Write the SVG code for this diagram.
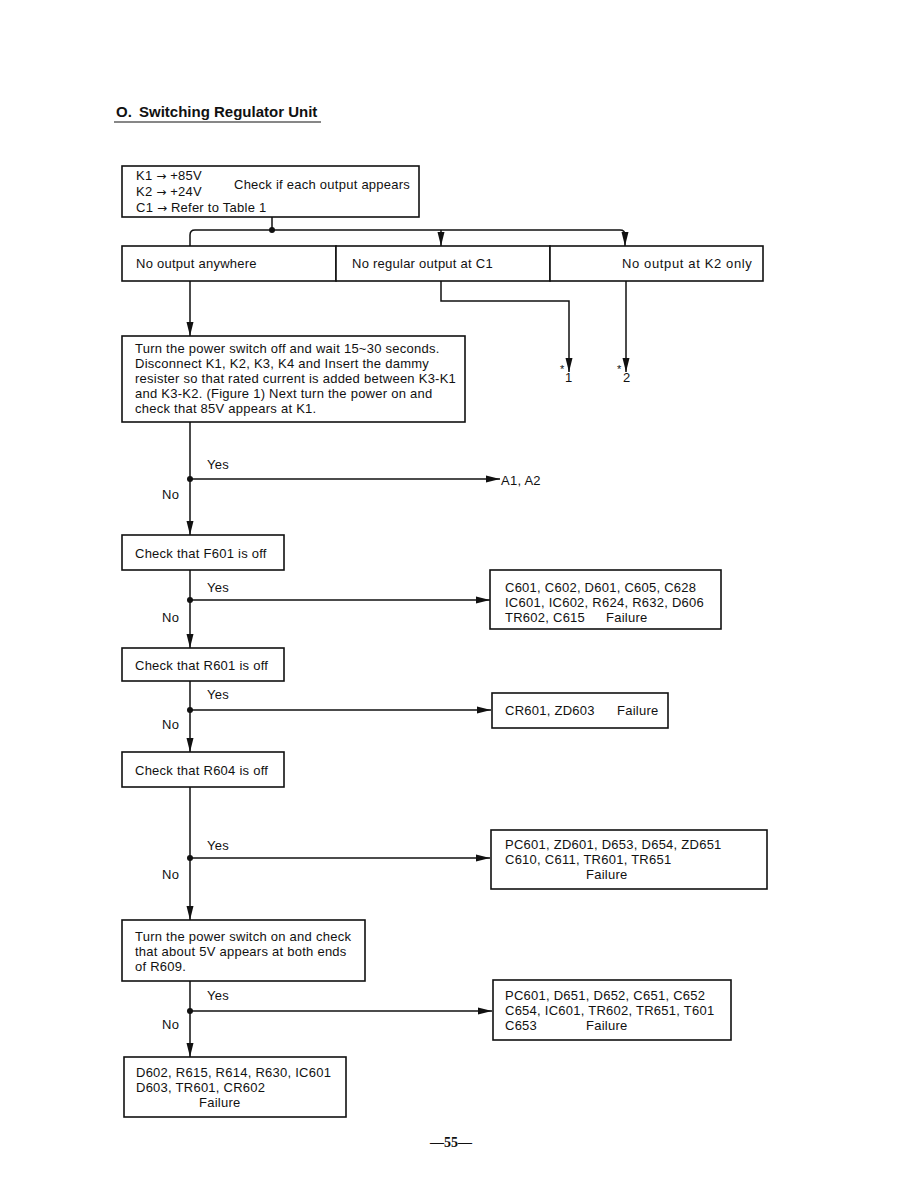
<svg xmlns="http://www.w3.org/2000/svg" width="918" height="1187" viewBox="0 0 918 1187">
<defs>
<marker id="ah" markerWidth="14" markerHeight="8" refX="14" refY="4" orient="auto" markerUnits="userSpaceOnUse">
<path d="M0,0.5 L14,4 L0,7.5 Z" fill="#111"/>
</marker>
<style>
.box{fill:#fff;stroke:#111;stroke-width:1.6}
.ln{fill:none;stroke:#111;stroke-width:1.5}
.t{font-family:"Liberation Sans",Arial,sans-serif;font-size:13px;letter-spacing:0.25px;fill:#111}
.ar{font-family:"DejaVu Sans",sans-serif;font-size:12px;letter-spacing:0}
.dot{fill:#111}
</style>
</defs>
<rect width="918" height="1187" fill="#fff"/>
<g id="title">
<text x="116" y="117" font-family="Liberation Sans,Arial,sans-serif" font-size="15" font-weight="bold" fill="#111">O.</text>
<text x="139" y="117" font-family="Liberation Sans,Arial,sans-serif" font-size="15" font-weight="bold" fill="#111">Switching Regulator Unit</text>
<line x1="114" y1="122" x2="321" y2="122" stroke="#111" stroke-width="1.2"/>
</g>
<g id="connectors">
<path class="ln" d="M272,217 V230"/>
<circle class="dot" cx="272" cy="230" r="3"/>
<path class="ln" d="M195,230 H620 Q625,230 625,235 V246" marker-end="url(#ah)"/>
<path class="ln" d="M195,230 Q190,230 190,235 V246"/>
<path class="ln" d="M441,230 V246" marker-end="url(#ah)"/>
<path class="ln" d="M190,281 V336" marker-end="url(#ah)"/>
<path class="ln" d="M441,281 V301 H569 V372" marker-end="url(#ah)"/>
<path class="ln" d="M626,281 V372" marker-end="url(#ah)"/>
<path class="ln" d="M190,422 V535" marker-end="url(#ah)"/>
<circle class="dot" cx="190" cy="479" r="3"/>
<path class="ln" d="M190,479 H500" marker-end="url(#ah)"/>
<path class="ln" d="M190,570 V648" marker-end="url(#ah)"/>
<circle class="dot" cx="190" cy="600" r="3"/>
<path class="ln" d="M190,600 H490" marker-end="url(#ah)"/>
<path class="ln" d="M190,681 V752" marker-end="url(#ah)"/>
<circle class="dot" cx="190" cy="710" r="3"/>
<path class="ln" d="M190,710 H491" marker-end="url(#ah)"/>
<path class="ln" d="M190,787 V920" marker-end="url(#ah)"/>
<circle class="dot" cx="190" cy="858" r="3"/>
<path class="ln" d="M190,858 H490" marker-end="url(#ah)"/>
<path class="ln" d="M190,981 V1057" marker-end="url(#ah)"/>
<circle class="dot" cx="190" cy="1011" r="3"/>
<path class="ln" d="M190,1011 H492" marker-end="url(#ah)"/>
<g class="t">
<text x="560" y="373" font-size="11">*</text><text x="565" y="382">1</text>
<text x="617" y="373" font-size="11">*</text><text x="623" y="382">2</text>
<text x="207" y="469">Yes</text><text x="162" y="499">No</text>
<text x="501" y="485">A1, A2</text>
<text x="207" y="592">Yes</text><text x="162" y="622">No</text>
<text x="207" y="699">Yes</text><text x="162" y="729">No</text>
<text x="207" y="850">Yes</text><text x="162" y="879">No</text>
<text x="207" y="1000">Yes</text><text x="162" y="1029">No</text>
</g>
</g>
<g id="n-start">
<rect class="box" x="122" y="166" width="297" height="51"/>
<text class="t" x="136" y="180">K1 <tspan class="ar">→</tspan> +85V</text>
<text class="t" x="136" y="196">K2 <tspan class="ar">→</tspan> +24V</text>
<text class="t" x="136" y="212">C1 <tspan class="ar">→</tspan> Refer to Table 1</text>
<text class="t" x="234" y="189">Check if each output appears</text>
</g>
<g id="n-noout">
<rect class="box" x="122" y="246" width="214" height="35"/>
<text class="t" x="136" y="268">No output anywhere</text>
</g>
<g id="n-noreg">
<rect class="box" x="336" y="246" width="214" height="35"/>
<text class="t" x="352" y="268">No regular output at C1</text>
</g>
<g id="n-nok2">
<rect class="box" x="550" y="246" width="213" height="35"/>
<text class="t" x="622" y="268" textLength="130">No output at K2 only</text>
</g>
<g id="n-turnoff">
<rect class="box" x="122" y="336" width="343" height="86"/>
<text class="t" x="135" y="353">Turn the power switch off and wait 15~30 seconds.</text>
<text class="t" x="135" y="368">Disconnect K1, K2, K3, K4 and Insert the dammy</text>
<text class="t" x="135" y="383">resister so that rated current is added between K3-K1</text>
<text class="t" x="135" y="398">and K3-K2. (Figure 1) Next turn the power on and</text>
<text class="t" x="135" y="413">check that 85V appears at K1.</text>
</g>
<g id="n-f601">
<rect class="box" x="122" y="535" width="162" height="35"/>
<text class="t" x="135" y="558">Check that F601 is off</text>
</g>
<g id="n-f601fail">
<rect class="box" x="490" y="570" width="231" height="59"/>
<text class="t" x="505" y="592">C601, C602, D601, C605, C628</text>
<text class="t" x="505" y="607">IC601, IC602, R624, R632, D606</text>
<text class="t" x="505" y="622">TR602, C615</text>
<text class="t" x="606" y="622">Failure</text>
</g>
<g id="n-r601">
<rect class="box" x="122" y="648" width="162" height="33"/>
<text class="t" x="135" y="670">Check that R601 is off</text>
</g>
<g id="n-r601fail">
<rect class="box" x="492" y="693" width="176" height="35"/>
<text class="t" x="505" y="715">CR601, ZD603</text>
<text class="t" x="617" y="715">Failure</text>
</g>
<g id="n-r604">
<rect class="box" x="122" y="752" width="162" height="35"/>
<text class="t" x="135" y="775">Check that R604 is off</text>
</g>
<g id="n-r604fail">
<rect class="box" x="491" y="830" width="276" height="59"/>
<text class="t" x="505" y="849">PC601, ZD601, D653, D654, ZD651</text>
<text class="t" x="505" y="864">C610, C611, TR601, TR651</text>
<text class="t" x="586" y="879">Failure</text>
</g>
<g id="n-r609">
<rect class="box" x="122" y="920" width="243" height="61"/>
<text class="t" x="135" y="941">Turn the power switch on and check</text>
<text class="t" x="135" y="956">that about 5V appears at both ends</text>
<text class="t" x="135" y="971">of R609.</text>
</g>
<g id="n-r609fail">
<rect class="box" x="493" y="980" width="238" height="60"/>
<text class="t" x="505" y="1000">PC601, D651, D652, C651, C652</text>
<text class="t" x="505" y="1015">C654, IC601, TR602, TR651, T601</text>
<text class="t" x="505" y="1030">C653</text>
<text class="t" x="586" y="1030">Failure</text>
</g>
<g id="n-final">
<rect class="box" x="124" y="1057" width="222" height="60"/>
<text class="t" x="136" y="1077">D602, R615, R614, R630, IC601</text>
<text class="t" x="136" y="1092">D603, TR601, CR602</text>
<text class="t" x="199" y="1107">Failure</text>
</g>
<g id="page">
<text x="451" y="1147" text-anchor="middle" font-family="Liberation Serif,serif" font-size="14" font-weight="bold" fill="#111">—55—</text>
</g>
</svg>
